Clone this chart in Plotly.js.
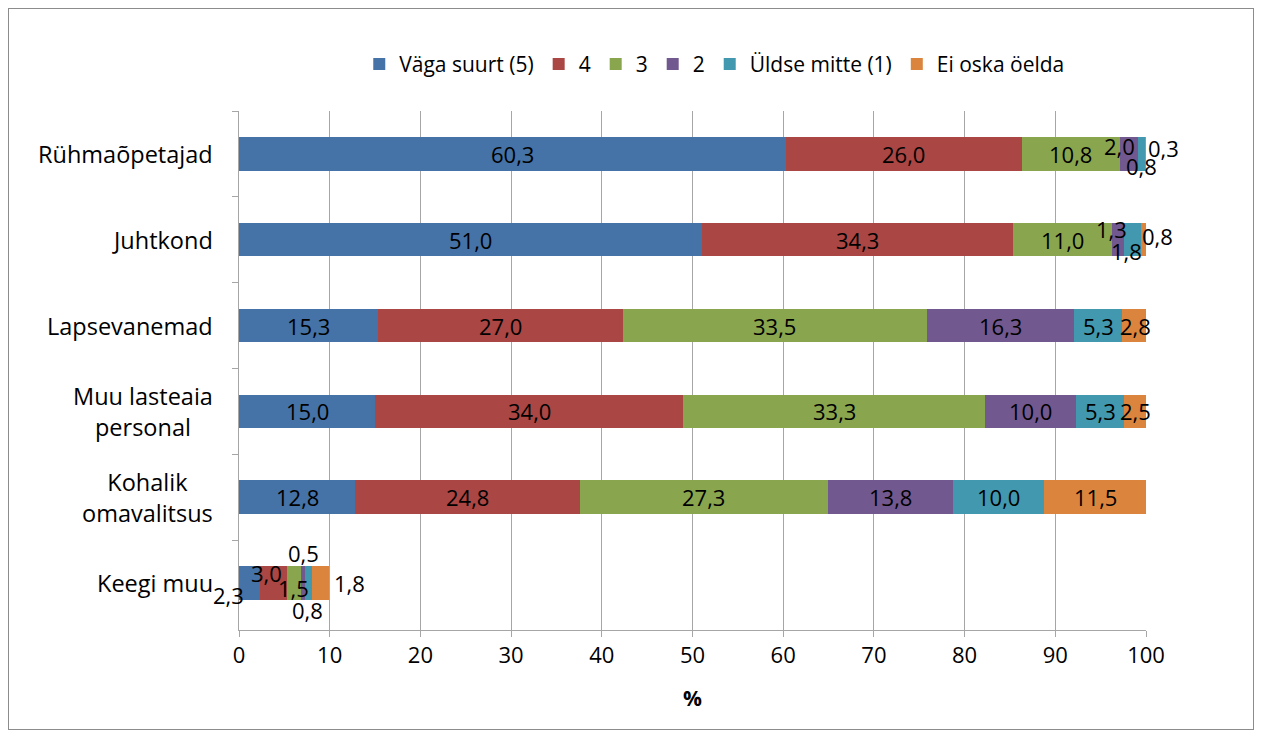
<!DOCTYPE html>
<html>
<head>
<meta charset="utf-8">
<script src="https://cdn.plot.ly/plotly-3.0.1.min.js"></script>
<style>
html,body{margin:0;padding:0;background:#fff;}
#wrap{position:relative;width:1262px;height:738px;}
#chart{width:1262px;height:738px;}
#frame{position:absolute;left:8px;top:8px;width:1246px;height:722px;border:1px solid #8c8c8c;pointer-events:none;box-sizing:border-box;}
</style>
</head>
<body>
<div id="wrap"><div id="chart"></div><div id="frame"></div></div>
<script>
const categories = ["Rühmaõpetajad", "Juhtkond", "Lapsevanemad", "Muu lasteaia<br>personal", "Kohalik<br>omavalitsus", "Keegi muu"];
const seriesNames = ["Väga suurt (5)", "4", "3", "2", "Üldse mitte (1)", "Ei oska öelda"];
const v5 = [60.3, 51.0, 15.3, 15.0, 12.8, 2.3];
const v4 = [26.0, 34.3, 27.0, 34.0, 24.8, 3.0];
const v3 = [10.8, 11.0, 33.5, 33.3, 27.3, 1.5];
const v2 = [2.0, 1.3, 16.3, 10.0, 13.8, 0.5];
const v1 = [0.8, 1.8, 5.3, 5.3, 10.0, 0.8];
const vNA = [0.3, 0.8, 2.8, 2.5, 11.5, 1.8];
const xTicks = [0, 10, 20, 30, 40, 50, 60, 70, 80, 90, 100];

const seriesValues = [v5, v4, v3, v2, v1, vNA];
const colors = ["#4572A7", "#AA4643", "#89A54E", "#71588F", "#4198AF", "#DB843D"];
const FONT = "'Open Sans', Lato, sans-serif";
const FS = 22;
const FS_CAT = 23.5;

// label placement styling for small segments: key "row,series" -> [xshift px, yshift px (down positive), xanchor]
const labelStyle = {
  "0,3": [-9, -8, "center"], "0,4": [0, 12, "center"], "0,5": [0, -6, "left"],
  "1,3": [-7, -11, "center"], "1,4": [-6, 11, "center"], "1,5": [-6, -4, "left"],
  "5,0": [-21, 12, "center"], "5,1": [-7, -10, "center"], "5,2": [0, 5, "center"],
  "5,3": [1, -30, "center"], "5,4": [-1, 27, "center"], "5,5": [3, 0, "left"]
};

const traces = seriesValues.map((vals, s) => ({
  type: "bar",
  orientation: "h",
  name: seriesNames[s],
  y: categories,
  x: vals,
  width: 0.39,
  marker: {color: colors[s]},
  hoverinfo: "x+name"
}));

const fmt = v => v.toFixed(1).replace(".", ",");
const annotations = [];
categories.forEach((cat, r) => {
  // category label, centred multi-line
  annotations.push({
    x: 0, xref: "paper", y: cat, yref: "y", xanchor: "right", xshift: -24,
    align: "center", text: cat, showarrow: false,
    font: {family: FONT, size: FS_CAT, color: "#000"}
  });
  let cum = 0;
  seriesValues.forEach((vals, s) => {
    const v = vals[r];
    const st = labelStyle[r + "," + s];
    let x = cum + v / 2;
    if (st && st[2] === "left") x = cum + v;
    x = Math.min(x, 100);
    annotations.push({
      x: x, y: cat, xref: "x", yref: "y",
      text: fmt(v), showarrow: false,
      xanchor: st ? st[2] : "center",
      xshift: st ? st[0] : 0, yshift: st ? -st[1] : 0,
      font: {family: FONT, size: FS, color: "#000"}
    });
    cum += v;
  });
});

const layout = {
  width: 1262, height: 738,
  barmode: "stack",
  paper_bgcolor: "#fff", plot_bgcolor: "#fff",
  margin: {l: 239, r: 116, t: 111, b: 108},
  font: {family: FONT, size: FS, color: "#000"},
  showlegend: true,
  legend: {orientation: "h", x: 0.524, xanchor: "center", y: 1.09, yanchor: "middle",
           font: {family: FONT, size: 21}, traceorder: "normal", itemwidth: 30},
  xaxis: {range: [0, 100], tickvals: xTicks, ticktext: xTicks.map(String),
          showgrid: true, gridcolor: "#a6a6a6", gridwidth: 1,
          showline: true, linecolor: "#a6a6a6", ticks: "outside", ticklen: 6, tickcolor: "#a6a6a6",
          zeroline: false, tickfont: {family: FONT, size: FS},
          title: {text: "<b>%</b>", font: {family: FONT, size: 21}, standoff: 22}},
  yaxis: {type: "category", autorange: "reversed", tickson: "boundaries",
          showline: true, linecolor: "#a6a6a6", ticks: "outside", ticklen: 6, tickcolor: "#a6a6a6",
          showgrid: false, showticklabels: false},
  annotations: annotations
};

Plotly.newPlot("chart", traces, layout, {displayModeBar: false, staticPlot: true});
</script>
</body>
</html>
